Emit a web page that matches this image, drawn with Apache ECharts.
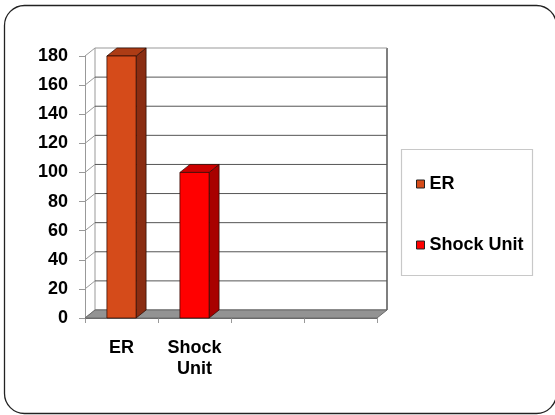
<!DOCTYPE html>
<html>
<head>
<meta charset="utf-8">
<script src="https://cdn.jsdelivr.net/npm/echarts@6/dist/echarts.min.js"></script>
<style>
  html, body { margin: 0; padding: 0; background: #fff; }
  #main { width: 555px; height: 415px; }
</style>
</head>
<body>
<div id="main"></div>
<script>
const categories = ["ER", "Shock\nUnit", "", ""];
const seriesNames = ["ER", "Shock Unit"];
const erValues = [180, "-", "-", "-"];
const shockValues = ["-", 100, "-", "-"];
const yTicks = [0, 20, 40, 60, 80, 100, 120, 140, 160, 180];

// depth of the fake 3d box
const DX = 10;
const DY = -8;
const FONT = "'Liberation Sans', Arial, sans-serif";

const myChart = echarts.init(document.getElementById("main"));

// back wall, left wall and floor, one call per tick
function wallItem(params, api) {
  const cs = params.coordSys;
  const tick = api.value(1);
  const y = api.coord([0, tick])[1];
  const x0 = cs.x;
  const x1 = cs.x + cs.width;
  const children = [
    {
      type: "line",
      shape: { x1: x0 + DX, y1: y + DY, x2: x1 + DX, y2: y + DY },
      style: { stroke: tick === 180 ? "#999" : "#555", lineWidth: 1 },
    },
    {
      type: "line",
      shape: { x1: x0, y1: y, x2: x0 + DX, y2: y + DY },
      style: { stroke: "#999", lineWidth: 1 },
    },
  ];
  if (tick === 0) {
    const top = cs.y;
    children.push(
      {
        type: "line",
        shape: { x1: x0 + DX, y1: y + DY, x2: x0 + DX, y2: top + DY },
        style: { stroke: "#999", lineWidth: 1 },
      },
      {
        type: "line",
        shape: { x1: x1 + DX, y1: y + DY, x2: x1 + DX, y2: top + DY },
        style: { stroke: "#555", lineWidth: 1.5 },
      },
      {
        type: "polygon",
        shape: { points: [[x0, y], [x1, y], [x1 + DX, y + DY], [x0 + DX, y + DY]] },
        style: { fill: "#939393", stroke: "#6a6a6a", lineWidth: 1 },
      }
    );
  }
  return { type: "group", children: children };
}

function barItem(front, side, top) {
  return function (params, api) {
    const v = api.value(1);
    if (v == null || isNaN(v)) return;
    const idx = api.value(0);
    const base = api.coord([idx, 0]);
    const peak = api.coord([idx, v]);
    const w = api.size([1, 0])[0] * 0.4;
    const xl = base[0] - w / 2;
    const xr = base[0] + w / 2;
    const yb = base[1];
    const yt = peak[1];
    const stroke = "#2a0a03";
    return {
      type: "group",
      children: [
        {
          type: "polygon",
          shape: { points: [[xr, yb], [xr + DX, yb + DY], [xr + DX, yt + DY], [xr, yt]] },
          style: { fill: side, stroke: stroke, lineWidth: 0.7 },
        },
        {
          type: "polygon",
          shape: { points: [[xl, yt], [xr, yt], [xr + DX, yt + DY], [xl + DX, yt + DY]] },
          style: { fill: top, stroke: stroke, lineWidth: 0.7 },
        },
        {
          type: "rect",
          shape: { x: xl, y: yt, width: w, height: yb - yt },
          style: { fill: front, stroke: stroke, lineWidth: 0.7 },
        },
      ],
    };
  };
}

const options = {
  animation: false,
  graphic: [
    {
      type: "rect",
      shape: { x: 4.5, y: 5.5, width: 552, height: 408, r: 20 },
      style: { fill: "none", stroke: "#222", lineWidth: 1.3 },
      z: 0,
    },
    {
      type: "rect",
      shape: { x: 401.5, y: 149.5, width: 131, height: 126 },
      style: { fill: "#fff", stroke: "#c8c8c8", lineWidth: 1.2 },
      z: 0,
    },
  ],
  legend: {
    data: seriesNames,
    orient: "vertical",
    left: 411,
    top: 170,
    itemWidth: 8,
    itemHeight: 8,
    itemGap: 43,
    icon: "rect",
    itemStyle: { borderColor: "#222", borderWidth: 1 },
    textStyle: { fontFamily: FONT, fontWeight: "bold", fontSize: 18, color: "#000" },
  },
  grid: { left: 85, top: 56, width: 292, height: 262 },
  xAxis: {
    type: "category",
    data: categories,
    boundaryGap: true,
    axisLine: { lineStyle: { color: "#6a6a6a", width: 1 } },
    axisTick: { show: true, length: 5, lineStyle: { color: "#999" } },
    axisLabel: {
      interval: 0,
      margin: 20,
      lineHeight: 21,
      fontFamily: FONT,
      fontWeight: "bold",
      fontSize: 18,
      color: "#000",
    },
  },
  yAxis: {
    type: "value",
    min: 0,
    max: 180,
    interval: 20,
    axisLine: { show: true, lineStyle: { color: "#999" } },
    axisTick: { show: true, length: 6, lineStyle: { color: "#999" } },
    splitLine: { show: false },
    axisLabel: {
      margin: 17,
      fontFamily: FONT,
      fontWeight: "bold",
      fontSize: 18,
      color: "#000",
    },
  },
  series: [
    {
      name: "walls",
      type: "custom",
      renderItem: wallItem,
      data: yTicks.map((t) => [0, t]),
      encode: { x: 0, y: 1 },
      silent: true,
      z: 1,
    },
    {
      name: seriesNames[0],
      type: "custom",
      renderItem: barItem("#d54b1a", "#8a2d12", "#ad3c15"),
      itemStyle: { color: "#d54b1a" },
      data: erValues.map((v, i) => [i, v]),
      encode: { x: 0, y: 1 },
      z: 3,
    },
    {
      name: seriesNames[1],
      type: "custom",
      renderItem: barItem("#ff0000", "#a80000", "#cc0000"),
      itemStyle: { color: "#ff0000" },
      data: shockValues.map((v, i) => [i, v]),
      encode: { x: 0, y: 1 },
      z: 3,
    },
  ],
};

myChart.setOption(options);
</script>
</body>
</html>
